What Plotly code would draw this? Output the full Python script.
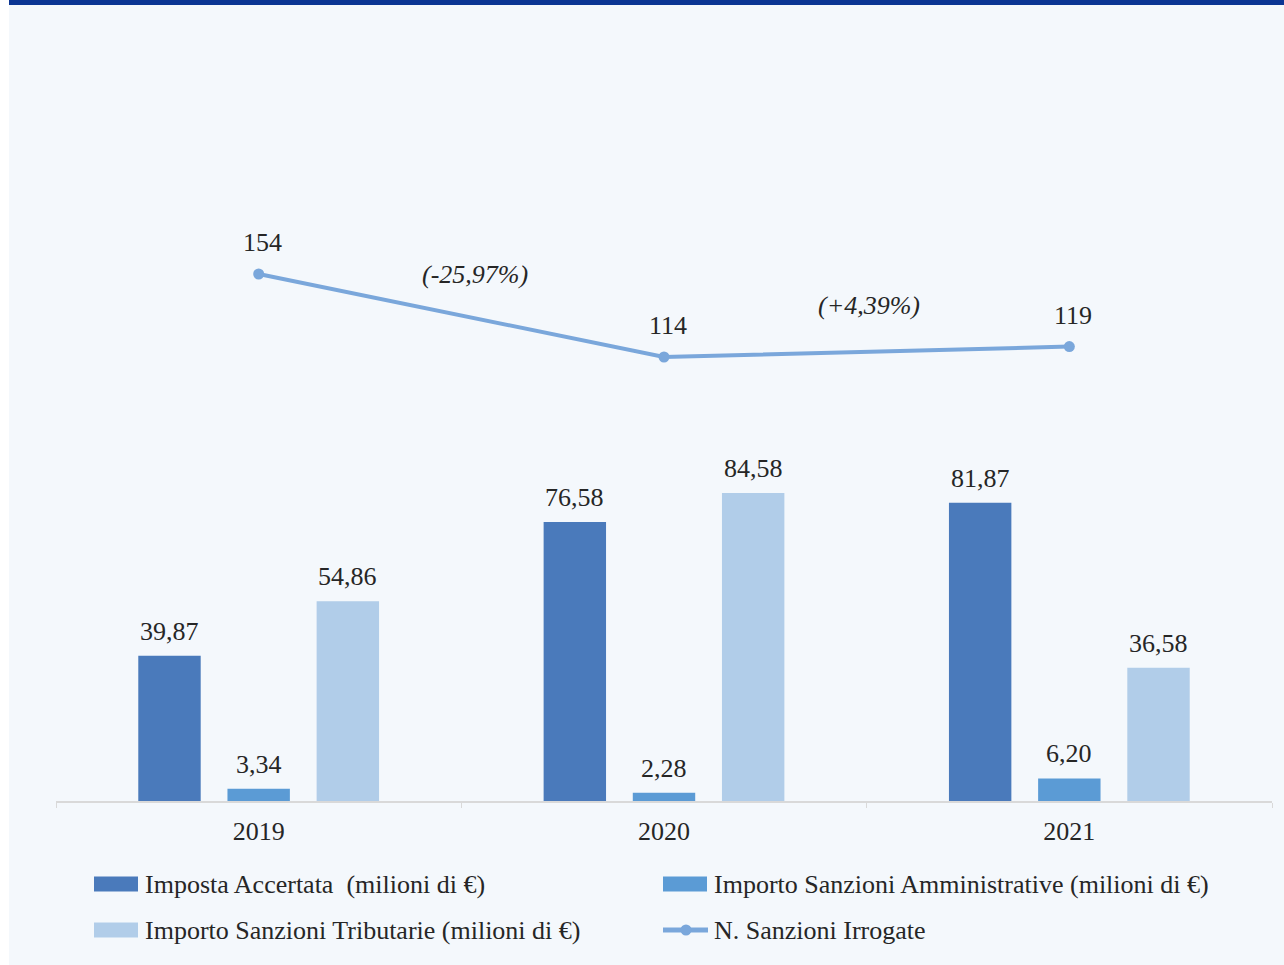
import plotly.graph_objects as go

# ---------------- data ----------------
years = ["2019", "2020", "2021"]
imposta_accertata = [39.87, 76.58, 81.87]
sanzioni_amministrative = [3.34, 2.28, 6.20]
sanzioni_tributarie = [54.86, 84.58, 36.58]
n_sanzioni = [154, 114, 119]
variazioni = ["(-25,97%)", "(+4,39%)"]

bar_names = [
    "Imposta Accertata  (milioni di €)",
    "Importo Sanzioni Amministrative (milioni di €)",
    "Importo Sanzioni Tributarie (milioni di €)",
]
line_name = "N. Sanzioni Irrogate"

# ---------------- style ----------------
W, H = 1284, 965
ML, MR, MT, MB = 56, 12, 30, 164
BG = "#f4f8fc"
TOP_BLUE = "#0b3593"
C_DARK = "#4a7abb"
C_MID = "#5b9bd5"
C_LIGHT = "#b1cde9"
C_LINE = "#7aa7db"
TXT = "#262626"
FONT = "Liberation Serif"
FS = 26
BARGAP = 0.34
BARGROUPGAP = 0.30

PW = W - ML - MR
PH = H - MT - MB


def px(x, y):
    """pixel -> paper coordinates"""
    return (x - ML) / PW, 1 - (y - MT) / PH


fig = go.Figure()

series = [imposta_accertata, sanzioni_amministrative, sanzioni_tributarie]
colors = [C_DARK, C_MID, C_LIGHT]
for name, vals, col in zip(bar_names, series, colors):
    fig.add_trace(go.Bar(x=years, y=vals, name=name, marker_color=col,
                         marker_line_width=0, showlegend=False))

fig.add_trace(go.Scatter(x=years, y=n_sanzioni, name=line_name, yaxis="y2",
                         mode="lines+markers",
                         line=dict(color=C_LINE, width=4),
                         marker=dict(color=C_LINE, size=11),
                         showlegend=False))

annotations = []
slot = (1 - BARGAP) / 3
for j, vals in enumerate(series):
    for i, v in enumerate(vals):
        annotations.append(dict(
            x=i + (j - 1) * slot, y=v, xref="x", yref="y",
            text=f"{v:.2f}".replace(".", ","), showarrow=False,
            yanchor="bottom", yshift=8,
            font=dict(family=FONT, size=FS, color=TXT)))
for i, v in enumerate(n_sanzioni):
    annotations.append(dict(
        x=i, y=v, xref="x", yref="y2", text=str(v), showarrow=False,
        yanchor="bottom", yshift=15, xshift=4,
        font=dict(family=FONT, size=FS, color=TXT)))
for i, lab in enumerate(variazioni):
    annotations.append(dict(
        x=i + 0.5, y=(n_sanzioni[i] + n_sanzioni[i + 1]) / 2,
        xref="x", yref="y2", text=f"<i>{lab}</i>", showarrow=False,
        yanchor="middle", yshift=[41, 46][i], xshift=[14, 2][i],
        font=dict(family=FONT, size=FS, color=TXT)))

shapes = []
# left white strip and top blue band
x0, y0 = px(0, 0)
x1, y1 = px(9, H)
shapes.append(dict(type="rect", xref="paper", yref="paper", x0=x0, x1=x1,
                   y0=y1, y1=y0, fillcolor="white", line_width=0, layer="below"))
x0, y0 = px(9, 0)
x1, y1 = px(W, 5)
shapes.append(dict(type="rect", xref="paper", yref="paper", x0=x0, x1=x1,
                   y0=y1, y1=y0, fillcolor=TOP_BLUE, line_width=0))

# manual legend
legend_items = [
    (bar_names[0], C_DARK, "bar", 94, 884),
    (bar_names[1], C_MID, "bar", 663, 884),
    (bar_names[2], C_LIGHT, "bar", 94, 930),
    (line_name, C_LINE, "line", 663, 930),
]
for name, col, kind, lx, ly in legend_items:
    if kind == "bar":
        ax0, ay0 = px(lx, ly - 7.5)
        ax1, ay1 = px(lx + 44, ly + 7.5)
        shapes.append(dict(type="rect", xref="paper", yref="paper",
                           x0=ax0, x1=ax1, y0=ay1, y1=ay0,
                           fillcolor=col, line_width=0))
    else:
        ax0, ay = px(lx, ly)
        ax1, _ = px(lx + 45, ly)
        shapes.append(dict(type="line", xref="paper", yref="paper",
                           x0=ax0, x1=ax1, y0=ay, y1=ay,
                           line=dict(color=col, width=5)))
        cx0, cy0 = px(lx + 17.5, ly - 5.5)
        cx1, cy1 = px(lx + 28.5, ly + 5.5)
        shapes.append(dict(type="circle", xref="paper", yref="paper",
                           x0=cx0, x1=cx1, y0=cy1, y1=cy0,
                           fillcolor=col, line_width=0))
    tx, ty = px(lx + 49, ly)
    annotations.append(dict(x=tx, y=ty, xref="paper", yref="paper",
                            text=name, showarrow=False, xanchor="left",
                            yanchor="middle",
                            font=dict(family=FONT, size=FS, color=TXT)))

fig.update_layout(
    width=W, height=H,
    margin=dict(l=ML, r=MR, t=MT, b=MB),
    paper_bgcolor=BG, plot_bgcolor=BG,
    barmode="group", bargap=BARGAP, bargroupgap=BARGROUPGAP,
    font=dict(family=FONT, size=FS, color=TXT),
    xaxis=dict(type="category", showgrid=False, showline=True,
               linecolor="#d9d9d9", linewidth=2, ticks="outside",
               tickson="boundaries", ticklen=5, tickcolor="#d9d9d9",
               tickfont=dict(family=FONT, size=FS, color=TXT),
               ticklabelstandoff=6),
    yaxis=dict(range=[0, 211.7], visible=False, showgrid=False),
    yaxis2=dict(range=[-100, 271.6], overlaying="y", visible=False,
                showgrid=False),
    annotations=annotations,
    shapes=shapes,
    showlegend=False,
)

fig.write_html("out.html",
               config={"displayModeBar": False},
               post_script="document.body.style.margin='0px';"
                           "document.body.style.overflow='hidden';")
